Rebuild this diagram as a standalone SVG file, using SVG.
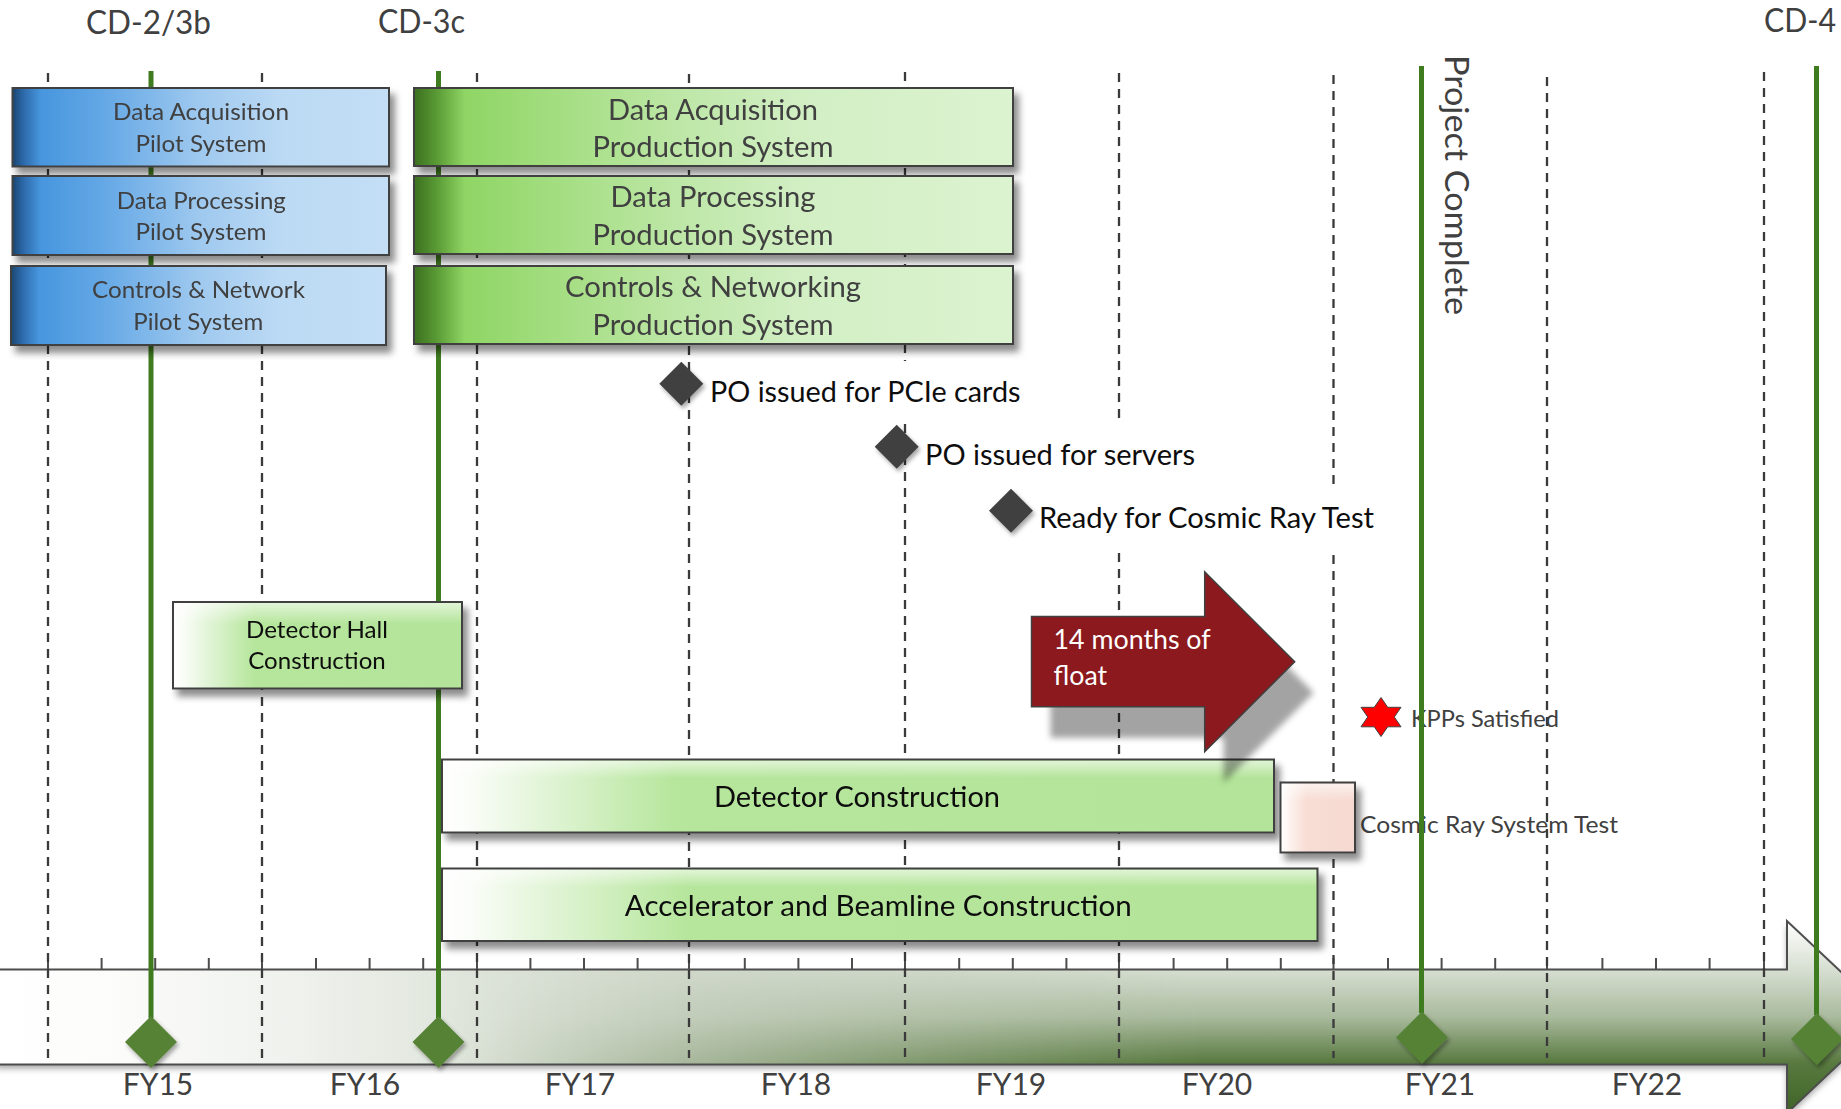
<svg xmlns="http://www.w3.org/2000/svg" width="1841" height="1109" viewBox="0 0 1841 1109">
  <style>
    text { font-family: Lato, "Open Sans", "Liberation Sans", sans-serif; }
    .gray { fill: #404040; }
    .ink { fill: #0d0d0d; }
    .box { stroke: #404040; stroke-width: 2; }
    .grid line { stroke: #3a3a3a; stroke-width: 2.3; stroke-dasharray: 9 7; }
    .stem { stroke: #3f7b1f; stroke-width: 5; }
    .gem { fill: #548235; }
    .ms { fill: #404040; }
    .tick { stroke: #4d4d4d; stroke-width: 2; fill: none; }
    .pilot { font-size: 24px; }
    .prod { font-size: 29px; }
    .label { font-size: 28.5px; }
    .small { font-size: 24px; }
  </style>
  <defs>
    <linearGradient id="gBlue" x1="0" y1="0" x2="1" y2="0">
      <stop offset="0" stop-color="#1a4670"/>
      <stop offset="0.03" stop-color="#2d6aab"/>
      <stop offset="0.075" stop-color="#4796de"/>
      <stop offset="0.25" stop-color="#66a9e6"/>
      <stop offset="0.5" stop-color="#9fc9ef"/>
      <stop offset="0.72" stop-color="#bcdaf4"/>
      <stop offset="1" stop-color="#c3def5"/>
    </linearGradient>
    <linearGradient id="gProd" x1="0" y1="0" x2="1" y2="0">
      <stop offset="0" stop-color="#3a6f1f"/>
      <stop offset="0.04" stop-color="#5c9d36"/>
      <stop offset="0.085" stop-color="#8fd564"/>
      <stop offset="0.25" stop-color="#a5de83"/>
      <stop offset="0.45" stop-color="#bee7a8"/>
      <stop offset="0.65" stop-color="#d2efc4"/>
      <stop offset="1" stop-color="#dcf3d0"/>
    </linearGradient>
    <linearGradient id="gLight" x1="0" y1="0" x2="1" y2="0">
      <stop offset="0" stop-color="#ffffff"/>
      <stop offset="0.03" stop-color="#fbfdf9"/>
      <stop offset="0.28" stop-color="#b6e69c"/>
      <stop offset="1" stop-color="#b3e499"/>
    </linearGradient>
    <linearGradient id="gPink" x1="0" y1="0" x2="1" y2="0">
      <stop offset="0" stop-color="#ffffff"/>
      <stop offset="0.12" stop-color="#fdf3ef"/>
      <stop offset="0.35" stop-color="#f8ddd4"/>
      <stop offset="1" stop-color="#f6dad1"/>
    </linearGradient>
    <linearGradient id="gGloss" x1="0" y1="0" x2="0" y2="1">
      <stop offset="0" stop-color="#ffffff" stop-opacity="0.6"/>
      <stop offset="0.25" stop-color="#ffffff" stop-opacity="0"/>
    </linearGradient>
    <!-- timeline band: horizontal fade plus vertical darkening toward the right -->
    <linearGradient id="gBandH" gradientUnits="userSpaceOnUse" x1="0" y1="0" x2="1889" y2="0">
      <stop offset="0" stop-color="#ffffff"/>
      <stop offset="0.06" stop-color="#fcfcfb"/>
      <stop offset="0.16" stop-color="#eef1ec"/>
      <stop offset="0.25" stop-color="#dfe5db"/>
      <stop offset="0.37" stop-color="#cdd5c7"/>
      <stop offset="0.55" stop-color="#bfcab7"/>
      <stop offset="0.75" stop-color="#b0bfa5"/>
      <stop offset="1" stop-color="#a3b596"/>
    </linearGradient>
    <linearGradient id="gBandV" gradientUnits="userSpaceOnUse" x1="0" y1="921" x2="0" y2="1113">
      <stop offset="0" stop-color="#ffffff"/>
      <stop offset="0.25" stop-color="#d7dfd2"/>
      <stop offset="0.5" stop-color="#a9ba9d"/>
      <stop offset="0.74" stop-color="#58793f"/>
      <stop offset="1" stop-color="#3f6428"/>
    </linearGradient>
    <linearGradient id="gRamp" gradientUnits="userSpaceOnUse" x1="450" y1="0" x2="1200" y2="0">
      <stop offset="0" stop-color="#000000"/>
      <stop offset="1" stop-color="#ffffff"/>
    </linearGradient>
    <mask id="mRight" maskUnits="userSpaceOnUse" x="0" y="900" width="1900" height="220">
      <rect x="0" y="900" width="1900" height="220" fill="url(#gRamp)"/>
    </mask>
    <filter id="fBox" x="-10%" y="-20%" width="130%" height="160%">
      <feDropShadow dx="5" dy="7" stdDeviation="3.5" flood-color="#000" flood-opacity="0.45"/>
    </filter>
    <filter id="fSmall" x="-30%" y="-30%" width="170%" height="170%">
      <feDropShadow dx="2" dy="3" stdDeviation="2" flood-color="#000" flood-opacity="0.35"/>
    </filter>
    <filter id="fBand" x="-5%" y="-10%" width="110%" height="130%">
      <feDropShadow dx="0" dy="4" stdDeviation="3" flood-color="#000" flood-opacity="0.35"/>
    </filter>
    <filter id="fBlur" x="-10%" y="-10%" width="120%" height="120%">
      <feGaussianBlur stdDeviation="3"/>
    </filter>
  </defs>

  <rect width="1841" height="1109" fill="#ffffff"/>

  <!-- time axis band -->
  <g id="axis">
    <g filter="url(#fBand)">
      <polygon points="-4,969.5 1787,969.5 1787,921 1889,1017 1787,1113 1787,1064.5 -4,1064.5" fill="url(#gBandH)"/>
    </g>
    <polygon points="-4,969.5 1787,969.5 1787,921 1889,1017 1787,1113 1787,1064.5 -4,1064.5" fill="url(#gBandV)" mask="url(#mRight)"/>
    <polygon points="-4,969.5 1787,969.5 1787,921 1889,1017 1787,1113 1787,1064.5 -4,1064.5" fill="none" stroke="#4d4d4d" stroke-width="2"/>
    <path class="tick" d="M48 958V970 M101.6 958V970 M155.2 958V970 M208.8 958V970 M262 958V970 M316 958V970 M369.6 958V970 M423.2 958V970 M477 958V970 M530.4 958V970 M584 958V970 M637.6 958V970 M689 958V970 M744.8 958V970 M798.4 958V970 M852 958V970 M905 958V970 M959.2 958V970 M1012.8 958V970 M1066.4 958V970 M1119 958V970 M1173.6 958V970 M1227.2 958V970 M1280.8 958V970 M1333.5 958V970 M1388 958V970 M1441.6 958V970 M1495.2 958V970 M1547 958V970 M1602.4 958V970 M1656 958V970 M1709.6 958V970 M1764 958V970"/>
    <g class="gray" font-size="30" text-anchor="middle">
      <text x="158" y="1095">FY15</text>
      <text x="365" y="1095">FY16</text>
      <text x="580" y="1095">FY17</text>
      <text x="796" y="1095">FY18</text>
      <text x="1011" y="1095">FY19</text>
      <text x="1217" y="1095">FY20</text>
      <text x="1440" y="1095">FY21</text>
      <text x="1647" y="1095">FY22</text>
    </g>
  </g>

  <!-- labels that sit under the gridlines -->
  <g id="kpp-label">
    <text class="gray small" x="1411" y="726.7" textLength="148" lengthAdjust="spacingAndGlyphs">KPPs Satisfied</text>
  </g>
  <g id="cosmic-label">
    <text class="gray small" x="1360" y="833" textLength="258" lengthAdjust="spacingAndGlyphs">Cosmic Ray System Test</text>
  </g>

  <!-- fiscal-year gridlines -->
  <g class="grid">
    <line x1="48" y1="73" x2="48" y2="1058"/>
    <line x1="262" y1="73" x2="262" y2="1058"/>
    <line x1="477" y1="73" x2="477" y2="1058"/>
    <line x1="689" y1="74" x2="689" y2="1058"/>
    <line x1="905" y1="72" x2="905" y2="1058"/>
    <line x1="1119" y1="73" x2="1119" y2="1058"/>
    <line x1="1333.5" y1="75" x2="1333.5" y2="1058"/>
    <line x1="1547" y1="77" x2="1547" y2="1058"/>
    <line x1="1764" y1="72" x2="1764" y2="1058"/>
  </g>

  <!-- milestone stems -->
  <g id="connectors">
    <line class="stem" x1="151" y1="71" x2="151" y2="1018"/>
    <line class="stem" x1="438.5" y1="71" x2="438.5" y2="1018"/>
    <line class="stem" x1="1421.5" y1="66" x2="1421.5" y2="1013"/>
    <line class="stem" x1="1816.5" y1="66" x2="1816.5" y2="1015"/>
  </g>

  <!-- decision milestones -->
  <g id="cd-2-3b">
    <text class="gray" x="148.5" y="34" font-size="33" text-anchor="middle" textLength="125" lengthAdjust="spacingAndGlyphs">CD-2/3b</text>
    <polygon class="gem" filter="url(#fSmall)" points="151,1016 177,1042 151,1068 125,1042"/>
  </g>
  <g id="cd-3c">
    <text class="gray" x="421.5" y="33" font-size="33" text-anchor="middle" textLength="87" lengthAdjust="spacingAndGlyphs">CD-3c</text>
    <polygon class="gem" filter="url(#fSmall)" points="438.5,1016 464.5,1042 438.5,1068 412.5,1042"/>
  </g>
  <g id="project-complete">
    <text class="gray" transform="translate(1444.5,55) rotate(90)" font-size="33" textLength="260" lengthAdjust="spacingAndGlyphs">Project Complete</text>
    <polygon class="gem" filter="url(#fSmall)" points="1422,1011.5 1448,1037.5 1422,1063.5 1396,1037.5"/>
  </g>
  <g id="cd-4">
    <text class="gray" x="1800" y="32" font-size="33" text-anchor="middle" textLength="72" lengthAdjust="spacingAndGlyphs">CD-4</text>
    <polygon class="gem" filter="url(#fSmall)" points="1817,1013 1843,1039 1817,1065 1791,1039"/>
  </g>

  <!-- pilot systems -->
  <g id="daq-pilot" filter="url(#fBox)">
    <rect class="box" x="12.5" y="88" width="376.5" height="78.5" fill="url(#gBlue)"/>
    <text class="gray pilot" text-anchor="middle" x="201" y="120" textLength="176" lengthAdjust="spacingAndGlyphs">Data Acquisition</text>
    <text class="gray pilot" text-anchor="middle" x="201" y="152" textLength="131" lengthAdjust="spacingAndGlyphs">Pilot System</text>
  </g>
  <g id="dp-pilot" filter="url(#fBox)">
    <rect class="box" x="12.5" y="176" width="376.5" height="79" fill="url(#gBlue)"/>
    <text class="gray pilot" text-anchor="middle" x="201.3" y="208.5" textLength="169" lengthAdjust="spacingAndGlyphs">Data Processing</text>
    <text class="gray pilot" text-anchor="middle" x="201" y="240" textLength="131" lengthAdjust="spacingAndGlyphs">Pilot System</text>
  </g>
  <g id="cn-pilot" filter="url(#fBox)">
    <rect class="box" x="11" y="266" width="375" height="79" fill="url(#gBlue)"/>
    <text class="gray pilot" text-anchor="middle" x="198.5" y="298" textLength="213" lengthAdjust="spacingAndGlyphs">Controls &amp; Network</text>
    <text class="gray pilot" text-anchor="middle" x="198.3" y="330" textLength="130" lengthAdjust="spacingAndGlyphs">Pilot System</text>
  </g>

  <!-- production systems -->
  <g id="daq-prod" filter="url(#fBox)">
    <rect class="box" x="414" y="88" width="599" height="78" fill="url(#gProd)"/>
    <text class="gray prod" text-anchor="middle" x="713" y="119.5" textLength="210" lengthAdjust="spacingAndGlyphs">Data Acquisition</text>
    <text class="gray prod" text-anchor="middle" x="713" y="157" textLength="241" lengthAdjust="spacingAndGlyphs">Production System</text>
  </g>
  <g id="dp-prod" filter="url(#fBox)">
    <rect class="box" x="414" y="176" width="599" height="78" fill="url(#gProd)"/>
    <text class="gray prod" text-anchor="middle" x="713" y="207" textLength="205" lengthAdjust="spacingAndGlyphs">Data Processing</text>
    <text class="gray prod" text-anchor="middle" x="713" y="245" textLength="241" lengthAdjust="spacingAndGlyphs">Production System</text>
  </g>
  <g id="cn-prod" filter="url(#fBox)">
    <rect class="box" x="414" y="266" width="599" height="78" fill="url(#gProd)"/>
    <text class="gray prod" text-anchor="middle" x="713" y="296.5" textLength="296" lengthAdjust="spacingAndGlyphs">Controls &amp; Networking</text>
    <text class="gray prod" text-anchor="middle" x="713" y="334.5" textLength="241" lengthAdjust="spacingAndGlyphs">Production System</text>
  </g>

  <!-- procurement milestones -->
  <g id="po-pcie">
    <rect x="704" y="361" width="326" height="59" fill="#ffffff"/>
    <polygon class="ms" filter="url(#fSmall)" points="681.3,361.7 703.3,383.7 681.3,405.7 659.3,383.7"/>
    <text class="ink label" x="710" y="401.5" textLength="310.5" lengthAdjust="spacingAndGlyphs">PO issued for PCIe cards</text>
  </g>
  <g id="po-servers">
    <rect x="920" y="424" width="285" height="61" fill="#ffffff"/>
    <polygon class="ms" filter="url(#fSmall)" points="896.7,424.7 918.7,446.7 896.7,468.7 874.7,446.7"/>
    <text class="ink label" x="925" y="465" textLength="270" lengthAdjust="spacingAndGlyphs">PO issued for servers</text>
  </g>
  <g id="ready-cosmic">
    <rect x="1034" y="488" width="350" height="60" fill="#ffffff"/>
    <polygon class="ms" filter="url(#fSmall)" points="1011,488.8 1033,510.8 1011,532.8 989,510.8"/>
    <text class="ink label" x="1039" y="528.3" textLength="335" lengthAdjust="spacingAndGlyphs">Ready for Cosmic Ray Test</text>
  </g>

  <!-- construction tasks -->
  <g id="hall" filter="url(#fBox)">
    <rect x="173" y="602" width="289" height="86.5" fill="url(#gLight)"/>
    <rect x="174" y="603" width="287" height="84.5" fill="url(#gGloss)"/>
    <rect class="box" x="173" y="602" width="289" height="86.5" fill="none"/>
    <text class="ink small" text-anchor="middle" x="317" y="637.5" textLength="142" lengthAdjust="spacingAndGlyphs">Detector Hall</text>
    <text class="ink small" text-anchor="middle" x="317" y="669" textLength="137.5" lengthAdjust="spacingAndGlyphs">Construction</text>
  </g>
  <g id="detector" filter="url(#fBox)">
    <rect x="442" y="759.5" width="832" height="73" fill="url(#gLight)"/>
    <rect x="443" y="760.5" width="830" height="71" fill="url(#gGloss)"/>
    <rect class="box" x="442" y="759.5" width="832" height="73" fill="none"/>
    <text class="ink" font-size="29" text-anchor="middle" x="857" y="807" textLength="286" lengthAdjust="spacingAndGlyphs">Detector Construction</text>
  </g>
  <g id="accelerator" filter="url(#fBox)">
    <rect x="442" y="868.5" width="875.5" height="72.5" fill="url(#gLight)"/>
    <rect x="443" y="869.5" width="873.5" height="70.5" fill="url(#gGloss)"/>
    <rect class="box" x="442" y="868.5" width="875.5" height="72.5" fill="none"/>
    <text class="ink" font-size="29" text-anchor="middle" x="878.3" y="915.5" textLength="507" lengthAdjust="spacingAndGlyphs">Accelerator and Beamline Construction</text>
  </g>
  <g id="cosmic-test" filter="url(#fBox)">
    <rect x="1280.5" y="782.5" width="74.5" height="70" fill="url(#gPink)"/>
    <rect x="1281.5" y="783.5" width="72.5" height="68" fill="url(#gGloss)"/>
    <rect class="box" x="1280.5" y="782.5" width="74.5" height="70" fill="none"/>
  </g>

  <!-- schedule float callout -->
  <g id="float">
    <polygon points="1050.5,647.5 1223.7,647.5 1223.7,602.7 1313.7,692.7 1223.7,782.7 1223.7,737.7 1050.5,737.7" fill="#000" fill-opacity="0.36" filter="url(#fBlur)"/>
    <polygon points="1031.5,616.5 1204.7,616.5 1204.7,571.7 1294.7,661.7 1204.7,751.7 1204.7,706.7 1031.5,706.7" fill="#8b191e" stroke="#404040" stroke-width="1.5"/>
    <text fill="#ffffff" font-size="26" x="1053.6" y="649.3" textLength="157" lengthAdjust="spacingAndGlyphs">14 months of</text>
    <text fill="#ffffff" font-size="26" x="1053.6" y="684.5" textLength="53.5" lengthAdjust="spacingAndGlyphs">float</text>
  </g>

  <!-- KPP marker -->
  <g id="kpp-star">
    <polygon points="1381,697.5 1387.7,707.3 1401,707.3 1394.3,717 1401,726.8 1387.7,726.8 1381,736.5 1374.3,726.8 1361,726.8 1367.7,717 1361,707.3 1374.3,707.3" fill="#ff0000" stroke="#404040" stroke-width="1"/>
  </g>
</svg>
